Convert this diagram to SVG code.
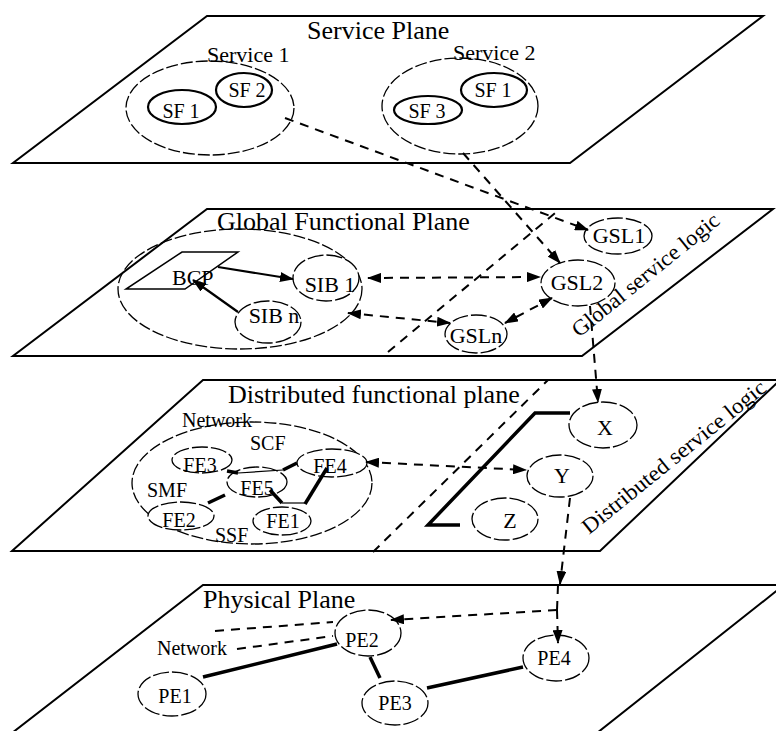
<svg xmlns="http://www.w3.org/2000/svg" width="776" height="731" viewBox="0 0 776 731">
<defs>
<marker id="ah" viewBox="0 0 14 10" refX="13" refY="5" markerWidth="14" markerHeight="10" markerUnits="userSpaceOnUse" orient="auto-start-reverse">
<path d="M0,0 L14,5 L0,10 z" fill="#000" stroke="none"/>
</marker>
<style>
text{font-family:"Liberation Serif","Times New Roman",serif;fill:#000}
.plane{fill:#fff;stroke:#000;stroke-width:2}
.title{font-size:26px}
.lbl{font-size:22px}
.sm{font-size:20px}
.mid{text-anchor:middle}
.grp{fill:none;stroke:#000;stroke-width:1.3;stroke-dasharray:12,3}
.sf{fill:#fff;stroke:#000;stroke-width:2.2}
.nd{fill:#fff;stroke:#000;stroke-width:1.3;stroke-dasharray:16,3}
.dash{fill:none;stroke:#000;stroke-width:2;stroke-dasharray:9,7}
.solid{fill:none;stroke:#000;stroke-width:2.2}
.thick{fill:none;stroke:#000;stroke-width:3.5}
.thin{fill:none;stroke:#000;stroke-width:1.2}
</style>
</defs>
<rect width="776" height="731" fill="#fff"/>

<!-- Planes -->
<g id="service-plane">
<polygon class="plane" points="207,16 763,16 570,163 13,163"/>
<text class="title" x="307" y="39">Service Plane</text>
</g>
<g id="global-plane">
<polygon class="plane" points="207,209 773,209 582,356 13,356"/>
<text class="title" x="217" y="230">Global Functional Plane</text>
<text class="lbl" transform="translate(579,338) rotate(-39)" textLength="183" lengthAdjust="spacingAndGlyphs">Global service logic</text>
</g>
<g id="distributed-plane">
<polygon class="plane" points="203,380 780,380 600,551 12,551"/>
<text class="title" x="228" y="403">Distributed functional plane</text>
<text class="lbl" transform="translate(589,535) rotate(-39)" textLength="230" lengthAdjust="spacingAndGlyphs">Distributed service logic</text>
</g>
<g id="physical-plane">
<polygon class="plane" points="203,585 784,585 597,733 12,733"/>
<text class="title" x="203" y="608">Physical Plane</text>
</g>

<!-- Service plane nodes -->
<g id="service1">
<ellipse class="grp" cx="210" cy="108" rx="84" ry="47"/>
<text class="lbl" x="207" y="62">Service 1</text>
</g>
<g id="s1-sf1"><ellipse class="sf" cx="182" cy="107" rx="34" ry="17"/><text class="sm mid" x="181" y="118">SF 1</text></g>
<g id="s1-sf2"><ellipse class="sf" cx="244" cy="90" rx="28" ry="17"/><text class="sm mid" x="247" y="97">SF 2</text></g>
<g id="service2">
<ellipse class="grp" cx="460" cy="106" rx="78" ry="48"/>
<text class="lbl" x="453" y="60">Service 2</text>
</g>
<g id="s2-sf1"><ellipse class="sf" cx="494" cy="90" rx="33" ry="17"/><text class="sm mid" x="493" y="97">SF 1</text></g>
<g id="s2-sf3"><ellipse class="sf" cx="428" cy="110" rx="34" ry="14"/><text class="sm mid" x="427" y="118">SF 3</text></g>

<!-- Global functional plane nodes -->
<g id="gfp-group"><ellipse class="grp" cx="240" cy="289" rx="122" ry="60"/></g>
<g id="bcp">
<polygon fill="#fff" stroke="#000" stroke-width="1.5" points="182,252 238,252 185,289 126,289"/>
<text class="lbl" x="172" y="285">BCP</text>
</g>
<g id="sib1"><ellipse class="nd" cx="326" cy="278" rx="33" ry="23"/><text class="lbl mid" x="330" y="292">SIB 1</text></g>
<g id="sibn"><ellipse class="nd" cx="268" cy="322" rx="33" ry="21"/><text class="lbl mid" x="274" y="323">SIB n</text></g>
<g id="gsl1"><ellipse class="nd" cx="618" cy="236" rx="34" ry="18"/><text class="lbl mid" x="619" y="243">GSL1</text></g>
<g id="gsl2"><ellipse class="nd" cx="578" cy="283" rx="37" ry="23"/><text class="lbl mid" x="577" y="290">GSL2</text></g>
<g id="gsln"><ellipse class="nd" cx="476" cy="334" rx="31" ry="19"/><text class="lbl mid" x="476" y="343">GSLn</text></g>

<!-- Distributed functional plane nodes -->
<g id="network-dfp">
<ellipse class="grp" cx="252" cy="483" rx="120" ry="61"/>
<text class="sm" x="182" y="427">Network</text>
<text class="sm" x="250" y="450">SCF</text>
<text class="sm" x="147" y="497">SMF</text>
<text class="sm" x="215" y="542">SSF</text>
</g>
<g id="fe3"><ellipse class="nd" cx="202" cy="460" rx="30" ry="13"/><text class="sm mid" x="200" y="472">FE3</text></g>
<g id="fe4"><ellipse class="nd" cx="332" cy="463" rx="35" ry="14"/><text class="sm mid" x="330" y="473">FE4</text></g>
<g id="fe5"><ellipse class="nd" cx="257" cy="482" rx="30" ry="15"/><text class="sm mid" x="257" y="495">FE5</text></g>
<g id="fe2"><ellipse class="nd" cx="181" cy="516" rx="33" ry="14"/><text class="sm mid" x="179" y="527">FE2</text></g>
<g id="fe1"><ellipse class="nd" cx="282" cy="521" rx="29" ry="14"/><text class="sm mid" x="283" y="528">FE1</text></g>
<g id="x-node"><ellipse class="nd" cx="603" cy="425" rx="34" ry="23"/><text class="lbl mid" x="605" y="435">X</text></g>
<g id="y-node"><ellipse class="nd" cx="560" cy="476" rx="33" ry="21"/><text class="lbl mid" x="562" y="483">Y</text></g>
<g id="z-node"><ellipse class="nd" cx="505" cy="519" rx="33" ry="21"/><text class="lbl mid" x="510" y="528">Z</text></g>

<!-- Physical plane nodes -->
<g id="phys-network"><text class="sm" x="157" y="655">Network</text></g>
<g id="pe1"><ellipse class="nd" cx="172" cy="694" rx="34" ry="22"/><text class="sm mid" x="175" y="703">PE1</text></g>
<g id="pe2"><ellipse class="nd" cx="368" cy="633" rx="33" ry="23"/><text class="sm mid" x="362" y="647">PE2</text></g>
<g id="pe3"><ellipse class="nd" cx="395" cy="703" rx="33" ry="22"/><text class="sm mid" x="395" y="710">PE3</text></g>
<g id="pe4"><ellipse class="nd" cx="556" cy="658" rx="33" ry="23"/><text class="sm mid" x="554" y="665">PE4</text></g>

<!-- Connectors -->
<g id="connectors">
<line class="dash" x1="285" y1="118" x2="588" y2="230" marker-end="url(#ah)"/>
<line class="dash" x1="463" y1="153" x2="560" y2="263" marker-end="url(#ah)"/>
<line class="solid" x1="218" y1="267" x2="293" y2="279" marker-end="url(#ah)"/>
<line class="solid" x1="238" y1="312" x2="193" y2="280" marker-end="url(#ah)"/>
<line class="dash" x1="368" y1="278" x2="540" y2="277" marker-start="url(#ah)" marker-end="url(#ah)"/>
<line class="dash" x1="348" y1="313" x2="450" y2="323" marker-start="url(#ah)" marker-end="url(#ah)"/>
<line class="dash" x1="552" y1="298" x2="505" y2="323" marker-start="url(#ah)" marker-end="url(#ah)"/>
<line class="dash" x1="388" y1="352" x2="560" y2="209"/>
<line class="dash" x1="590" y1="306" x2="598" y2="402" marker-end="url(#ah)"/>
<line class="dash" x1="366" y1="462" x2="526" y2="470" marker-start="url(#ah)" marker-end="url(#ah)"/>
<line class="dash" x1="373" y1="552" x2="548" y2="380"/>
<polyline class="thick" points="570,413 535,413 428,525 460,525"/>
<line class="dash" x1="570" y1="498" x2="560" y2="584" marker-end="url(#ah)"/>
<line class="dash" x1="558" y1="585" x2="557" y2="610"/>
<line class="dash" x1="557" y1="610" x2="391" y2="620" marker-end="url(#ah)"/>
<line class="dash" x1="557" y1="610" x2="558" y2="643" marker-end="url(#ah)"/>
<line class="dash" x1="215" y1="631" x2="333" y2="622"/>
<line class="dash" x1="237" y1="649" x2="333" y2="636"/>
<line class="thick" x1="227" y1="471" x2="238" y2="473"/>
<line class="thin" x1="238" y1="473" x2="283" y2="470"/>
<line class="thick" x1="283" y1="470" x2="297" y2="463"/>
<line class="thick" x1="208" y1="503" x2="225" y2="495"/>
<line class="thick" x1="270" y1="490" x2="282" y2="503"/>
<line class="thin" x1="282" y1="503" x2="305" y2="503"/>
<line class="thick" x1="305" y1="504" x2="327" y2="468"/>
<line class="thick" x1="203" y1="677" x2="337" y2="644"/>
<line class="thick" x1="370" y1="657" x2="380" y2="678"/>
<line class="thick" x1="427" y1="688" x2="523" y2="667"/>
</g>
</svg>
